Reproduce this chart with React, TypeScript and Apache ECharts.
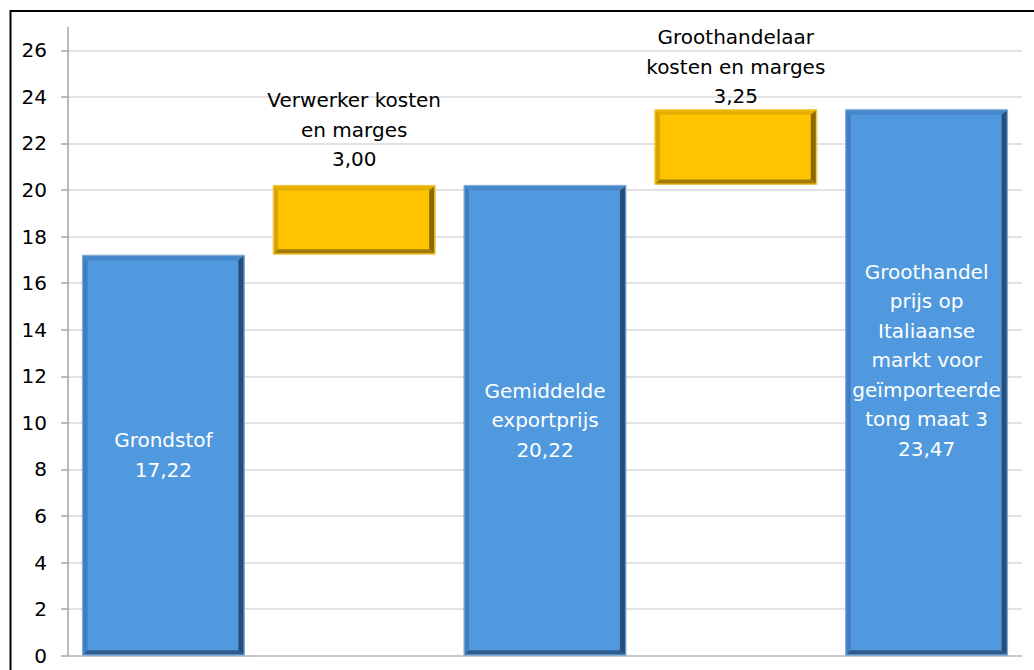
import React, { useEffect, useRef } from "react";
import * as echarts from "echarts";

const categories = [
  "Grondstof",
  "Verwerker kosten\nen marges",
  "Gemiddelde\nexportprijs",
  "Groothandelaar\nkosten en marges",
  "Groothandel\nprijs op\nItaliaanse\nmarkt voor\ngeïmporteerde\ntong maat 3",
];
const baseValues = [0, 17.22, 0, 20.22, 0];
const stepValues = [17.22, 3.0, 20.22, 3.25, 23.47];
const kinds = ["total", "step", "total", "step", "total"];
const yTicks = { min: 0, max: 26, interval: 2 };

const FONT = "DejaVu Sans";
const BAR_FRACTION = 0.854;

const palette: Record<string, any> = {
  total: {
    face: "#5099DE",
    border: "#7FA6CC",
    left: "#3F7DBE",
    top: "#4688CB",
    right: "#284D76",
    bottom: "#2F5C8C",
  },
  step: {
    face: "#FFC300",
    border: "#E8C24A",
    left: "#D9A300",
    top: "#E6AE00",
    right: "#8A6A00",
    bottom: "#A07A08",
  },
};

const fmt = (v: number) => v.toFixed(2).replace(".", ",");

export default function App() {
  const ref = useRef<HTMLDivElement>(null);
  useEffect(() => {
    if (!ref.current) return;
    const chart = echarts.init(ref.current, null, { renderer: "svg" });

    const valueData = stepValues.map((v, i) => {
      const k = kinds[i];
      const isStep = k === "step";
      return {
        value: v,
        itemStyle: { color: palette[k].face, borderColor: palette[k].border, borderWidth: 1 },
        label: {
          show: true,
          position: isStep ? "top" : "inside",
          distance: i === 1 ? 11 : i === 3 ? -2 : 5,
          offset: i === 4 ? [0, -22] : [0, 0],
          color: isStep ? "#000000" : "#FFFFFF",
          fontFamily: FONT,
          fontSize: 20,
          lineHeight: 29.5,
          align: "center",
          formatter: () => categories[i] + "\n" + fmt(v),
        },
      };
    });

    const bevelData = stepValues.map((v, i) => [i, baseValues[i], baseValues[i] + v, i]);

    chart.setOption({
      animation: false,
      grid: { left: 68, right: 12, top: 50.3, bottom: 14.3, containLabel: false },
      xAxis: {
        type: "category",
        data: categories,
        axisLine: { show: true, lineStyle: { color: "#BFBFBF", width: 1.5 } },
        axisTick: { show: false },
        axisLabel: { show: false },
        splitLine: { show: false },
      },
      yAxis: {
        type: "value",
        min: yTicks.min,
        max: yTicks.max,
        interval: yTicks.interval,
        axisLine: { show: true, lineStyle: { color: "#A6A6A6", width: 1.5 } },
        axisTick: { show: true, length: 7, lineStyle: { color: "#A6A6A6", width: 1.5 } },
        axisLabel: { color: "#000000", fontFamily: FONT, fontSize: 20, margin: 21 },
        splitLine: { show: true, lineStyle: { color: "#D9D9D9", width: 1.5 } },
      },
      series: [
        {
          type: "bar",
          stack: "w",
          data: baseValues,
          itemStyle: { color: "transparent" },
          barCategoryGap: "14.6%",
          silent: true,
        },
        {
          type: "bar",
          stack: "w",
          data: valueData,
          barCategoryGap: "14.6%",
        },
        {
          type: "custom",
          silent: true,
          z: 3,
          encode: { x: 0, y: [1, 2] },
          data: bevelData,
          renderItem: (params: any, api: any) => {
            const i = api.value(0);
            const lo = api.value(1);
            const hi = api.value(2);
            const k = kinds[api.value(3)];
            const pal = palette[k];
            const pTop = api.coord([i, hi]);
            const pBot = api.coord([i, lo]);
            const bw = api.size([1, 0])[0] * BAR_FRACTION;
            const x0 = pTop[0] - bw / 2 + 1.5;
            const x1 = pTop[0] + bw / 2 - 1.5;
            const y0 = pTop[1] + 1.5;
            const y1 = pBot[1] - 1.5;
            const t = 4;
            const tr = 5;
            return {
              type: "group",
              children: [
                {
                  type: "polygon",
                  shape: { points: [[x0, y0], [x0 + t, y0 + t], [x0 + t, y1 - t], [x0, y1]] },
                  style: { fill: pal.left },
                },
                {
                  type: "polygon",
                  shape: { points: [[x0, y0], [x1, y0], [x1 - tr, y0 + t], [x0 + t, y0 + t]] },
                  style: { fill: pal.top },
                },
                {
                  type: "polygon",
                  shape: { points: [[x1, y0], [x1, y1], [x1 - tr, y1 - t], [x1 - tr, y0 + t]] },
                  style: { fill: pal.right },
                },
                {
                  type: "polygon",
                  shape: { points: [[x0, y1], [x0 + t, y1 - t], [x1 - tr, y1 - t], [x1, y1]] },
                  style: { fill: pal.bottom },
                },
              ],
            };
          },
        },
      ],
      graphic: [
        {
          type: "line",
          shape: { x1: 68, y1: 27, x2: 68, y2: 51 },
          style: { stroke: "#A6A6A6", lineWidth: 1.5 },
          silent: true,
        },
        {
          type: "rect",
          shape: { x: 10.5, y: 11, width: 1100, height: 1000 },
          style: { fill: "none", stroke: "#000000", lineWidth: 2 },
          silent: true,
        },
      ],
    });
    return () => chart.dispose();
  }, []);
  return (
    <div
      ref={ref}
      style={{ position: "fixed", left: 0, top: 0, width: 1034, height: 670, background: "#FFFFFF" }}
    />
  );
}
